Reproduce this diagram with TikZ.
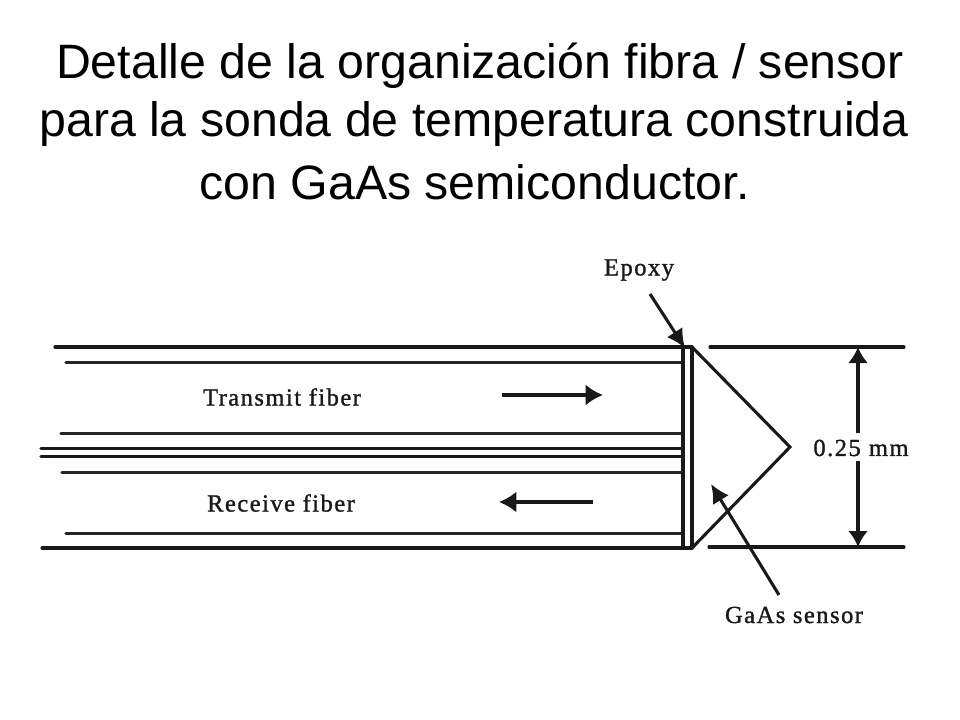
\documentclass[tikz,border=0pt]{standalone}
\usepackage{fontspec}
\setmainfont{Liberation Sans}
\newfontfamily\figfont[LetterSpace=6,FakeBold=1.2]{Liberation Serif}
\usetikzlibrary{arrows.meta}
\tikzset{
  x=0.75pt,y=-0.75pt,
  titletext/.style={anchor=base,inner sep=0pt,font=\fontsize{36.2pt}{36.2pt}\selectfont,text=black},
  figlabel/.style={inner sep=0pt,font=\figfont\fontsize{18.4pt}{18.4pt}\selectfont,text=black!90},
  wall/.style={line width=2.3pt,draw=black!90,line cap=round},
  inner wall/.style={line width=2.4pt,draw=black!85,line cap=round},
  flow/.style={line width=3.4pt,draw=black!90,-{Latex[length=13pt,width=16pt]}},
  pointer/.style={line width=2.3pt,draw=black!90,-{Latex[length=14pt,width=14pt]}},
  dimen/.style={line width=2.3pt,draw=black!90,-{Latex[length=12pt,width=15pt]}}
}
\begin{document}
\begin{tikzpicture}
\useasboundingbox (0,0) rectangle (960,720);
\fill[white] (0,0) rectangle (960,720);
\node[titletext] (t1) at (480,79) {Detalle de la organización fibra / sensor};
\node[titletext] (t2) at (474,137) {para la sonda de temperatura construida};
\node[titletext] (t3) at (474.5,200) {con GaAs semiconductor.};
\node[figlabel] (epoxy) at (639,270) {Epoxy};
\node[figlabel] (transmit) at (282,397) {Transmit fiber};
\node[figlabel] (receive) at (281,503) {Receive fiber};
\node[figlabel] (dim) at (861,448) {0.25\,\,mm};
\node[figlabel] (gaas) at (794,615) {GaAs sensor};
% fibre walls
\draw[wall] (55,347) -- (692,347);
\draw[inner wall] (66,362.4) -- (683,362.4);
\draw[inner wall] (61,433.4) -- (683,433.4);
\draw[wall] (41,448.5) -- (683,448.5);
\draw[wall] (41,456.5) -- (683,456.5);
\draw[inner wall] (62,472.4) -- (683,472.4);
\draw[inner wall] (66,533.4) -- (683,533.4);
\draw[wall] (42,548) -- (692,548);
% epoxy layer and sensor
\draw[wall] (683,347) -- (683,548);
\draw[wall] (692,347) -- (692,548);
\draw[wall,line join=miter] (692,347) -- (790,447) -- (692,548);
% extension lines
\draw[wall] (710,347) -- (904,347);
\draw[wall] (709,547) -- (904,547);
% arrows
\coordinate (tA) at (502,395); \coordinate (tB) at (603,395);
\coordinate (rA) at (593,502); \coordinate (rB) at (499,502);
\draw[flow] (tA) -- (tB);
\draw[flow] (rA) -- (rB);
\coordinate (eA) at (650,294); \coordinate (eB) at (685,348);
\draw[pointer] (eA) -- (eB);
\coordinate (gA) at (779,595); \coordinate (gB) at (711,484);
\draw[pointer] (gA) -- (gB);
\coordinate (dT) at (858,347); \coordinate (dB) at (858,547);
\draw[dimen] (858,433) -- (dT);
\draw[dimen] (858,461) -- (dB);
\end{tikzpicture}
\end{document}
